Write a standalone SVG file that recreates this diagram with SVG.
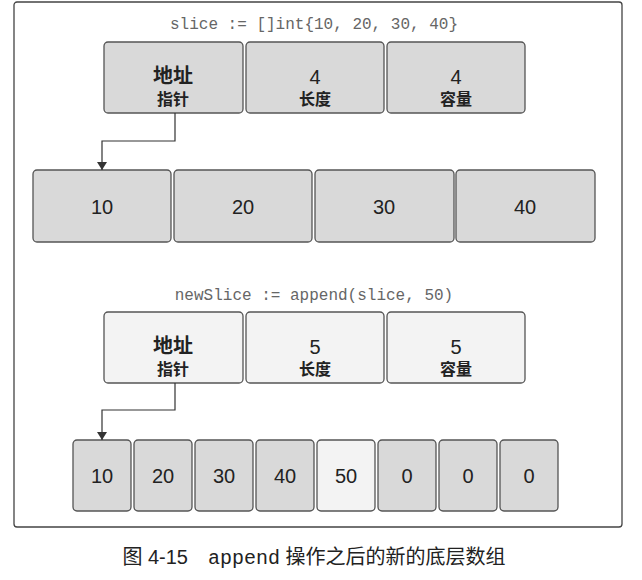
<svg xmlns="http://www.w3.org/2000/svg" width="642" height="580" viewBox="0 0 642 580">
<style>
.b{stroke:#555;stroke-width:1.3}
.d{fill:#d9d9d9}.l{fill:#f3f3f3}
.c{font-family:"Liberation Mono",monospace;font-size:16px;fill:#666;text-anchor:middle}
.t{font-family:"Liberation Sans","Noto Sans CJK SC",sans-serif;text-anchor:middle;fill:#222}
.big{font-size:20px}.sm{font-size:16px;font-weight:bold}.cj{font-weight:bold}
.k{fill:none;stroke:#333;stroke-width:1.2}
</style>
<defs>
<marker id="h" viewBox="0 0 8 10" markerWidth="8" markerHeight="10" refX="8" refY="5" orient="auto" markerUnits="userSpaceOnUse"><path d="M0,0 L8,5 L0,10 Z" fill="#333"/></marker></defs>
<rect x="14" y="2" width="608" height="525" rx="3" fill="#fff" stroke="#444" stroke-width="1.3"/>
<text class="c" x="314" y="29">slice := []int{10, 20, 30, 40}</text>
<g id="s1"><rect class="b d" x="104" y="42" width="139" height="71" rx="4"/><text class="t big cj" x="173" y="83">地址</text><text class="t sm" x="173" y="105">指针</text></g>
<g id="s1len"><rect class="b d" x="246" y="42" width="138" height="71" rx="4"/><text class="t big" x="315" y="84">4</text><text class="t sm" x="315" y="105">长度</text></g>
<g id="s1cap"><rect class="b d" x="387" y="42" width="138" height="71" rx="4"/><text class="t big" x="456" y="84">4</text><text class="t sm" x="456" y="105">容量</text></g>
<g id="arr1">
<rect class="b d" x="33" y="170" width="138" height="72" rx="4"/><text class="t big" x="102" y="214">10</text>
<rect class="b d" x="174" y="170" width="138" height="72" rx="4"/><text class="t big" x="243" y="214">20</text>
<rect class="b d" x="315" y="170" width="139" height="72" rx="4"/><text class="t big" x="384" y="214">30</text>
<rect class="b d" x="456" y="170" width="139" height="72" rx="4"/><text class="t big" x="525" y="214">40</text>
</g>
<text class="c" x="314" y="300">newSlice := append(slice, 50)</text>
<g id="s2"><rect class="b l" x="104" y="312" width="139" height="71" rx="4"/><text class="t big cj" x="173" y="353">地址</text><text class="t sm" x="173" y="375">指针</text></g>
<g id="s2len"><rect class="b l" x="246" y="312" width="138" height="71" rx="4"/><text class="t big" x="315" y="354">5</text><text class="t sm" x="315" y="375">长度</text></g>
<g id="s2cap"><rect class="b l" x="387" y="312" width="138" height="71" rx="4"/><text class="t big" x="456" y="354">5</text><text class="t sm" x="456" y="375">容量</text></g>
<g id="arr2">
<rect class="b d" x="73" y="440" width="58" height="71" rx="4"/><text class="t big" x="102" y="483">10</text>
<rect class="b d" x="134" y="440" width="58" height="71" rx="4"/><text class="t big" x="163" y="483">20</text>
<rect class="b d" x="195" y="440" width="58" height="71" rx="4"/><text class="t big" x="224" y="483">30</text>
<rect class="b d" x="256" y="440" width="58" height="71" rx="4"/><text class="t big" x="285" y="483">40</text>
<rect class="b l" x="317" y="440" width="58" height="71" rx="4"/><text class="t big" x="346" y="483">50</text>
<rect class="b d" x="378" y="440" width="58" height="71" rx="4"/><text class="t big" x="407" y="483">0</text>
<rect class="b d" x="439" y="440" width="58" height="71" rx="4"/><text class="t big" x="468" y="483">0</text>
<rect class="b d" x="500" y="440" width="58" height="71" rx="4"/><text class="t big" x="529" y="483">0</text>
</g>
<g id="connectors">
<path class="k" d="M175,113 V141 H102 V170" marker-end="url(#h)"/>
<path class="k" d="M175,383 V410 H102 V440" marker-end="url(#h)"/>
</g>
<text x="314" y="564" font-size="20" fill="#222" text-anchor="middle" font-family="Liberation Sans,Noto Sans CJK SC,sans-serif">图 4-15　<tspan font-family="Liberation Mono,monospace">append</tspan> 操作之后的新的底层数组</text>
</svg>
